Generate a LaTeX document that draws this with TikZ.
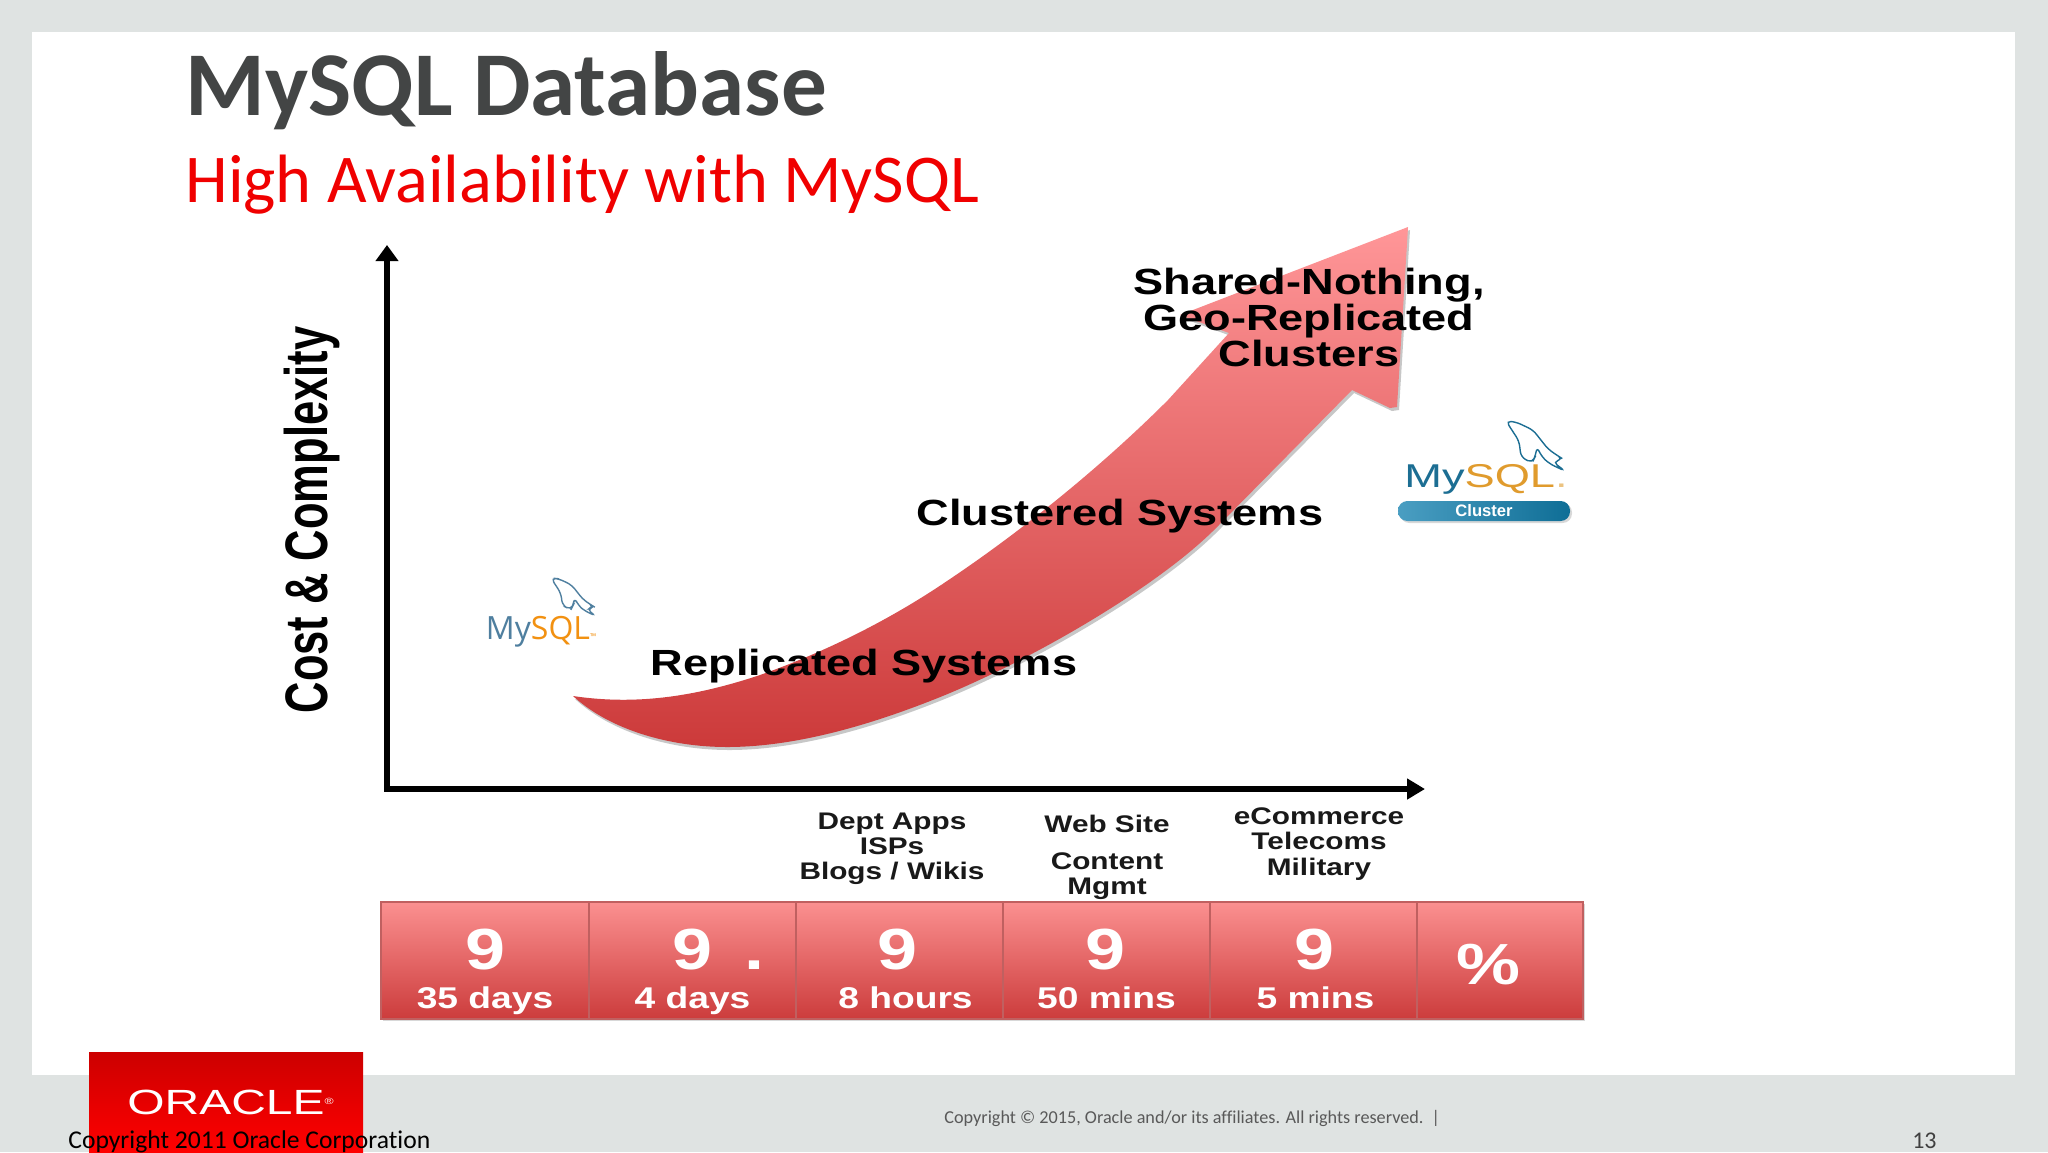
\documentclass[tikz,border=0pt]{standalone}
\usepackage{fontspec}
\usetikzlibrary{shapes,arrows.meta,positioning,shadows}
\setmainfont[Ligatures=NoCommon]{Carlito}
\newfontfamily\extfont[FakeStretch=1.24]{Liberation Sans}
\newfontfamily\logofont[FakeStretch=1.37]{Liberation Sans}
\newfontfamily\thinfont[FakeStretch=0.725]{Liberation Sans}
\newfontfamily\plainfont{Liberation Sans}
\newfontfamily\openfont{Open Sans}
\definecolor{slide}{HTML}{DFE3E2}
\definecolor{titlegray}{HTML}{434545}
\definecolor{subred}{HTML}{F00000}
\definecolor{celltop}{HTML}{FB9090}
\definecolor{cellbot}{HTML}{CC3C3C}
\definecolor{celledge}{HTML}{C06060}
\definecolor{arrowtop}{HTML}{FF9698}
\definecolor{arrowbot}{HTML}{CC3A3A}
\definecolor{sqlblue}{HTML}{4F7F9F}
\definecolor{sqlorange}{HTML}{F29111}
\definecolor{clusterblue}{HTML}{1C6E93}
\definecolor{clusterorange}{HTML}{E09B2D}
\definecolor{pillleft}{HTML}{4A9EC2}
\definecolor{pillright}{HTML}{0F6E96}
\tikzset{
  cell/.style={rectangle,draw=celledge,line width=.6pt,top color=celltop,bottom color=cellbot,inner sep=0,outer sep=0,
    minimum height=58.5pt,drop shadow={shadow xshift=.8pt,shadow yshift=-1.2pt,opacity=.3}},
  digit/.style={text=white,inner sep=0,font=\extfont\bfseries\fontsize{29}{29}\selectfont},
  span/.style={text=white,inner sep=0,text height=10pt,text depth=3pt,font=\extfont\bfseries\fontsize{15}{15}\selectfont},
  big/.style={text=black,inner sep=0,align=center,font=\extfont\bfseries\fontsize{18.2}{18}\selectfont},
  small/.style={text=black!90,inner sep=0,align=center,font=\extfont\bfseries\fontsize{12}{12.6}\selectfont},
  axisline/.style={line width=2.6pt,black,{Triangle[length=8pt,width=11pt]}-{Triangle[length=9pt,width=10pt]}},
  dolphin/.pic={
    \draw[line width=.7pt,rounded corners=2.5pt,pic actions]
      (0,0) -- (10,1) -- (27,9) -- (42,28) -- (52,35) -- (57,38) -- (47,41) -- (59,50)
      -- (44,43) -- (36,36) -- (31,26) -- (29,36) -- (26,42) -- (15,36) -- (13,20) -- cycle;
  }
}
\def \arrowpath {(573,696) .. controls (640,706) and (700,695) .. (760,675)
  .. controls (825,652) and (890,620) .. (950,579)
  .. controls (1020,532) and (1100,468) .. (1168,400) -- (1229,333) -- (1180,315) -- (1408,227) -- (1397,407)
  -- (1390,408) -- (1352,390) -- (1217,527) .. controls (1160,585) and (1040,655) .. (950,693)
  .. controls (880,722) and (800,747) .. (727,747)
  .. controls (670,747) and (610,730) .. (573,696) -- cycle}

\begin{document}
\begin{tikzpicture}[x=.5pt,y=-.5pt]
  \useasboundingbox (0,0) rectangle (2048,1152);
  \fill[slide] (0,0) rectangle (2048,1152);
  \fill[white] (32,32) rectangle (2015,1075);

  \node[anchor=base west,inner sep=0,text=titlegray,font=\bfseries\fontsize{45.6}{46}\selectfont] (title) at (185,115) {MySQL Database};
  \node[anchor=base west,inner sep=0,text=subred,font=\fontsize{34.2}{35}\selectfont] (subtitle) at (185,202) {High Availability with MySQL};

  % growth arrow
  \fill[black,opacity=.22,shift={(2,3)}] \arrowpath;
  \shade[top color=arrowtop,bottom color=arrowbot] \arrowpath;

  % axes
  \coordinate (origin) at (387,789);
  \coordinate (ytip) at (387,245);
  \coordinate (xtip) at (1425,789);
  \draw[axisline] (ytip) -- (origin) -- (xtip);
  \node[rotate=90,inner sep=0,font=\thinfont\bfseries\fontsize{30}{31}\selectfont] (ylabel) at (312,520) {Cost \& Complexity};

  \node[big] (shared) at (1309,317) {Shared-Nothing,\\Geo-Replicated\\Clusters};
  \node[big] (clustered) at (1120,516) {Clustered Systems};
  \node[big] (replicated) at (864,666) {Replicated Systems};

  % logos
  \pic[sqlblue,scale=.76] at (551,578) {dolphin};
  \node[inner sep=0,font=\openfont\fontsize{16}{16}\selectfont] (mysql) at (538,632)
    {\textcolor{sqlblue}{My}\textcolor{sqlorange}{SQL}\rlap{\textcolor{sqlorange}{\raisebox{-.1pt}{\fontsize{4}{4}\selectfont ™}}}};
  \pic[clusterblue] at (1506,421) {dolphin};
  \node[inner sep=0,font=\logofont\fontsize{16.5}{18}\selectfont] (clustersql) at (1486,479)
    {\textcolor{clusterblue}{My}\textcolor{clusterorange}{SQL}\textcolor{clusterorange!60}{.}};
  \node[rectangle,rounded corners=4.7pt,inner sep=0,minimum width=86pt,minimum height=10pt,left color=pillleft,right color=pillright,
    drop shadow={shadow xshift=1pt,shadow yshift=-1pt,opacity=.3},text=white,font=\plainfont\bfseries\fontsize{8.3}{8}\selectfont] (pill) at (1484,511) {Cluster};

  % availability bar
  \node[cell,minimum width=104pt] (c1) at (485,960.5) {};
  \node[cell,minimum width=103.5pt,right=0pt of c1] (c2) {};
  \node[cell,minimum width=103.5pt,right=0pt of c2] (c3) {};
  \node[cell,minimum width=103.5pt,right=0pt of c3] (c4) {};
  \node[cell,minimum width=103.5pt,right=0pt of c4] (c5) {};
  \node[cell,minimum width=83pt,right=0pt of c5] (c6) {};

  \node[digit] (n1) at ([yshift=5.5pt]c1.center) {9};
  \node[digit] (n2) at ([yshift=5.5pt]c2.center) {9\rlap{\hspace{.55em}.}};
  \node[digit] (n3) at ([yshift=5.5pt,xshift=-1pt]c3.center) {9};
  \node[digit] (n4) at ([yshift=5.5pt,xshift=-.5pt]c4.center) {9};
  \node[digit] (n5) at ([yshift=5.5pt,xshift=.5pt]c5.center) {9};
  \node[digit] (n6) at ([yshift=-2pt,xshift=-6pt]c6.center) {\%};

  \node[span] (s1) at ([yshift=-20.3pt]c1.center) {35 days};
  \node[span] (s2) at ([yshift=-20.3pt]c2.center) {4 days};
  \node[span] (s3) at ([yshift=-20.3pt,xshift=3pt]c3.center) {8 hours};
  \node[span] (s4) at ([yshift=-20.3pt]c4.center) {50 mins};
  \node[span] (s5) at ([yshift=-20.3pt,xshift=1pt]c5.center) {5 mins};

  \node[small] (apps) at (892,849) {Dept Apps\\ISPs\\Blogs / Wikis};
  \node[small] (web) at (1107,824) {Web Site};
  \node[small] (content) at (1107,876) {Content\\Mgmt};
  \node[small] (commerce) at (1319,844) {eCommerce\\Telecoms\\Military};

  % footer
  \node[rectangle,inner sep=0,minimum width=137pt,minimum height=50pt,top color=red!80!black,middle color=red!94!black,bottom color=red] (redbox) at (226,1102) {};
  \node[inner sep=0,text=white,font=\logofont\fontsize{17.5}{18}\selectfont] (oracle) at (226,1102.5)
    {ORACLE\rlap{\raisebox{5pt}{\fontsize{4.5}{5}\selectfont ®}}};
  \node[anchor=base west,inner sep=0,text=black,font=\fontsize{12.8}{13}\selectfont] (old) at (68,1148) {Copyright 2011 Oracle Corporation};
  \node[anchor=base west,inner sep=0,text=black!65,font=\fontsize{9.1}{10}\selectfont] (rights) at (944,1123) {Copyright © 2015, Oracle and/or its affiliates. All rights reserved.~~|};
  \node[anchor=base east,inner sep=0,text=black!75,font=\fontsize{12}{12}\selectfont] (page) at (1937,1148) {13};
\end{tikzpicture}
\end{document}
